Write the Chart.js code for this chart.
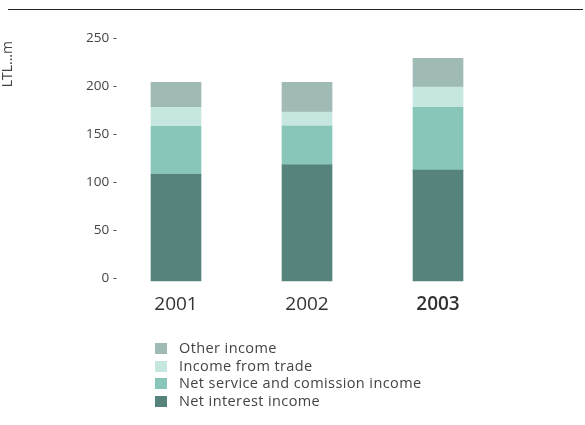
<!DOCTYPE html>
<html lang="en">
<head>
<meta charset="UTF-8">
<title>Operating income</title>
<style>
  body { margin: 0; background: #fff; font-family: "Open Sans", sans-serif; }
  #wrap { position: relative; width: 585px; height: 425px; }
  #grafico { position: absolute; left: 0; top: 0; }
  #topline { position: absolute; left: 8px; top: 9px; width: 575px; height: 1px; background: #222; }
  #legend { position: absolute; left: 155px; top: 339px; margin: 0; padding: 0; list-style: none; }
  #legend li { height: 17.7px; line-height: 17.7px; font-size: 14.5px; letter-spacing: 0.4px; color: #444; white-space: nowrap; }
  #legend span { display: inline-block; width: 12px; height: 11px; margin-right: 12px; vertical-align: -1px; }
</style>
</head>
<body>
<div id="wrap">
  <canvas id="grafico" width="585" height="425"></canvas>
  <div id="topline"></div>
  <ul id="legend"></ul>
</div>

<script src="https://cdn.jsdelivr.net/npm/chart.js"></script>
<script>
  // LTL millions per year
  const anos = ['2001', '2002', '2003']
  const juros = [111, 121, 115.5]        // Net interest income
  const comissoes = [50, 40.5, 65.5]     // Net service and comission income
  const comercio = [20, 14.5, 21]        // Income from trade
  const outros = [26, 31, 30]            // Other income
  const passoY = 50
  const maxY = 250

  const series = [
    { label: 'Net interest income', data: juros, cor: '#56847c' },
    { label: 'Net service and comission income', data: comissoes, cor: '#88c6ba' },
    { label: 'Income from trade', data: comercio, cor: '#c6e6e0' },
    { label: 'Other income', data: outros, cor: '#a0bab5' }
  ]

  const ctx = document.getElementById('grafico')

  // area do grafico vai do centro da 1a barra ao centro da ultima (offset false),
  // assim o eixo y tem largura para os rotulos "250 -" sem corte
  const grafico = new Chart(ctx, {
    type: 'bar',
    data: {
      labels: anos,
      datasets: series.map(s => ({
        label: s.label,
        data: s.data,
        backgroundColor: s.cor,
        borderWidth: 0,
        barThickness: 50,
        clip: false
      }))
    },
    options: {
      responsive: false,
      animation: false,
      layout: { padding: { top: 41, right: 147, bottom: 0, left: 0 } },
      plugins: { legend: { display: false }, tooltip: { enabled: false } },
      scales: {
        x: {
          stacked: true,
          offset: false,
          grid: { display: false, drawTicks: false },
          border: { display: false },
          ticks: {
            padding: 12,
            color: '#333',
            font: (c) => ({ family: 'Open Sans', size: 19, weight: c.index === 2 ? '600' : '400' })
          },
          afterFit: (s) => { s.height = 144 }
        },
        y: {
          stacked: true,
          min: 0,
          max: maxY,
          grid: { display: false, drawTicks: false },
          border: { display: false },
          ticks: {
            stepSize: passoY,
            padding: 59,
            labelOffset: -2.5,
            color: '#444',
            font: { family: 'Open Sans', size: 13.5 },
            callback: function (v) { return v + ' -' }
          },
          title: {
            display: true,
            text: 'LTL...m',
            align: 'end',
            color: '#444',
            font: { family: 'Open Sans', size: 14 },
            padding: { top: 0, bottom: 0 }
          },
          afterFit: (s) => {
            s.width = 176
            // o padding dos rotulos nao deve empurrar o topo
            s.paddingTop = 8
            s.paddingBottom = 8
          }
        }
      }
    }
  })

  // legenda vertical, ordem inversa da pilha
  const legenda = document.getElementById('legend')
  series.slice().reverse().forEach(s => {
    const li = document.createElement('li')
    li.innerHTML = '<span style="background:' + s.cor + '"></span>' + s.label
    legenda.appendChild(li)
  })
</script>
</body>
</html>
